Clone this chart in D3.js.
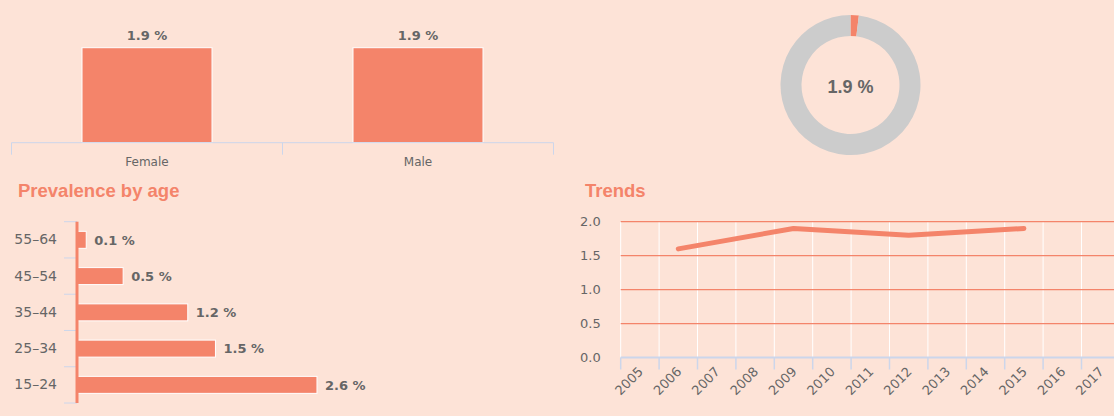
<!DOCTYPE html>
<html>
<head>
<meta charset="utf-8">
<script src="https://cdn.jsdelivr.net/npm/d3@7"></script>
<style>
body { margin: 0; background: #fde3d7; }
svg { display: block; }
text { font-family: "DejaVu Sans", sans-serif; fill: #666; }
.title { font-family: "Liberation Sans", Arial, sans-serif; font-weight: bold; font-size: 18.5px; fill: #f4846a; }
</style>
</head>
<body>
<script>
const width = 1114
const height = 416
const orange = '#f4846a'
const axisBlue = '#ccd6eb'

// data
const genders = ['Female', 'Male']
const genderValues = [1.9, 1.9]
const overall = 1.9
const ageGroups = ['55–64', '45–54', '35–44', '25–34', '15–24']
const ageValues = [0.1, 0.5, 1.2, 1.5, 2.6]
const years = ['2005','2006','2007','2008','2009','2010','2011','2012','2013','2014','2015','2016','2017']
const trendYears = ['2006', '2009', '2012', '2015']
const trendValues = [1.6, 1.9, 1.8, 1.9]
const trendTicks = [0, 0.5, 1.0, 1.5, 2.0]

const svg = d3.select('body').append('svg')
  .attr('width', width)
  .attr('height', height)

// ---- by gender ----
const gx = d3.scaleBand().domain(genders).range([11.5, 553.5])
const gy = d3.scaleLinear().domain([0, 2]).range([142.7, 42.7])
const barW = 130
const gData = genders.map((d, i) => ({ k: d, v: genderValues[i] }))

svg.append('g').selectAll('rect').data(gData).join('rect')
  .attr('x', d => gx(d.k) + (gx.bandwidth() - barW) / 2)
  .attr('y', d => gy(d.v))
  .attr('width', barW)
  .attr('height', d => gy(0) - gy(d.v))
  .attr('fill', orange)
  .attr('stroke', '#fff')
  .attr('stroke-width', 1)

svg.append('g').selectAll('text').data(gData).join('text')
  .attr('x', d => gx(d.k) + gx.bandwidth() / 2)
  .attr('y', d => gy(d.v) - 8)
  .attr('text-anchor', 'middle')
  .style('font-size', '13px')
  .style('font-weight', 'bold')
  .text(d => d.v.toFixed(1) + ' %')

const gAxis = svg.append('g').attr('transform', `translate(0,${gy(0)})`)
gAxis.append('line')
  .attr('x1', gx.range()[0]).attr('x2', gx.range()[1])
  .attr('stroke', axisBlue)
gAxis.selectAll('line.tick').data([...genders.map(d => gx(d)), gx.range()[1]]).join('line')
  .attr('class', 'tick')
  .attr('x1', d => d).attr('x2', d => d)
  .attr('y1', 0).attr('y2', 12)
  .attr('stroke', axisBlue)
gAxis.selectAll('text').data(genders).join('text')
  .attr('x', d => gx(d) + gx.bandwidth() / 2)
  .attr('y', 23)
  .attr('text-anchor', 'middle')
  .style('font-size', '12px')
  .text(d => d)

// ---- donut ----
const pie = d3.pie().sort(null)
const arc = d3.arc().innerRadius(49).outerRadius(70)
const donut = svg.append('g').attr('transform', 'translate(850.5,85)')
donut.selectAll('path').data(pie([overall, 100 - overall])).join('path')
  .attr('d', arc)
  .attr('fill', (d, i) => i === 0 ? orange : '#cccccc')
donut.append('text')
  .attr('y', 8)
  .attr('text-anchor', 'middle')
  .style('font-family', '"Liberation Sans", Arial, sans-serif')
  .style('font-weight', 'bold')
  .style('font-size', '18px')
  .text(overall.toFixed(1) + ' %')

// ---- prevalence by age ----
svg.append('text').attr('class', 'title').attr('x', 18).attr('y', 197).text('Prevalence by age')

const ay = d3.scaleBand().domain(ageGroups).range([221.7, 403])
const ax = d3.scaleLinear().domain([0, 3]).range([77, 77 + 3 * 92.3])
const barH = 17
const aData = ageGroups.map((d, i) => ({ k: d, v: ageValues[i] }))

const ageAxis = svg.append('g').attr('transform', `translate(${ax(0)},0)`)
  .call(d3.axisLeft(ay).tickSize(0).tickPadding(20))
ageAxis.select('.domain').remove()
ageAxis.selectAll('text').style('font-size', '14px').attr('fill', '#666').style('font-family', '"DejaVu Sans", sans-serif')

svg.append('g').selectAll('line').data([...ageGroups.map(d => ay(d)), ay.range()[1]]).join('line')
  .attr('x1', ax(0) - 13).attr('x2', ax(0))
  .attr('y1', d => d).attr('y2', d => d)
  .attr('stroke', axisBlue)

svg.append('g').selectAll('rect').data(aData).join('rect')
  .attr('x', ax(0))
  .attr('y', d => ay(d.k) + (ay.bandwidth() - barH) / 2)
  .attr('width', d => ax(d.v) - ax(0))
  .attr('height', barH)
  .attr('fill', orange)
  .attr('stroke', '#fff')
  .attr('stroke-width', 1)

svg.append('line')
  .attr('x1', ax(0)).attr('x2', ax(0))
  .attr('y1', ay.range()[0]).attr('y2', ay.range()[1])
  .attr('stroke', orange).attr('stroke-width', 3)

svg.append('g').selectAll('text').data(aData).join('text')
  .attr('x', d => ax(d.v) + 8)
  .attr('y', d => ay(d.k) + ay.bandwidth() / 2)
  .attr('dy', '0.36em')
  .style('font-size', '13px')
  .style('font-weight', 'bold')
  .text(d => d.v.toFixed(1) + ' %')

// ---- trends ----
svg.append('text').attr('class', 'title').attr('x', 585).attr('y', 197).text('Trends')

const tx = d3.scaleBand().domain(years).range([620.7, 620.7 + years.length * 38.4])
const ty = d3.scaleLinear().domain([0, 2]).range([357.5, 221.7])

svg.append('g').selectAll('line').data(years).join('line')
  .attr('x1', d => tx(d)).attr('x2', d => tx(d))
  .attr('y1', ty(2)).attr('y2', ty(0))
  .attr('stroke', '#fff')

svg.append('g').selectAll('line').data(trendTicks.filter(d => d > 0)).join('line')
  .attr('x1', tx.range()[0]).attr('x2', width)
  .attr('y1', d => ty(d)).attr('y2', d => ty(d))
  .attr('stroke', orange)
  .attr('stroke-width', 1.3)

const yAx = svg.append('g').attr('transform', `translate(${tx.range()[0]},0)`)
  .call(d3.axisLeft(ty).tickValues(trendTicks).tickFormat(d3.format('.1f')).tickSize(0).tickPadding(20))
yAx.select('.domain').remove()
yAx.selectAll('text').style('font-size', '13px').attr('fill', '#666').style('font-family', '"DejaVu Sans", sans-serif')

const xAx = svg.append('g').attr('transform', `translate(0,${ty(0)})`)
xAx.append('line').attr('x1', tx.range()[0]).attr('x2', width).attr('stroke', axisBlue).attr('stroke-width', 2)
xAx.selectAll('line.tick').data(years).join('line')
  .attr('class', 'tick')
  .attr('x1', d => tx(d)).attr('x2', d => tx(d))
  .attr('y1', 0).attr('y2', 12)
  .attr('stroke', axisBlue).attr('stroke-width', 1.5)
xAx.selectAll('text').data(years).join('text')
  .attr('text-anchor', 'end')
  .attr('transform', d => `translate(${tx(d) + tx.bandwidth() / 2 + 4},${15}) rotate(-45)`)
  .style('font-size', '13px')
  .text(d => d)

const line = d3.line()
  .x(d => tx(d.k) + tx.bandwidth() / 2)
  .y(d => ty(d.v))
svg.append('path')
  .datum(trendYears.map((d, i) => ({ k: d, v: trendValues[i] })))
  .attr('d', line)
  .attr('fill', 'none')
  .attr('stroke', orange)
  .attr('stroke-width', 5)
  .attr('stroke-linecap', 'round')
  .attr('stroke-linejoin', 'round')
</script>
</body>
</html>
